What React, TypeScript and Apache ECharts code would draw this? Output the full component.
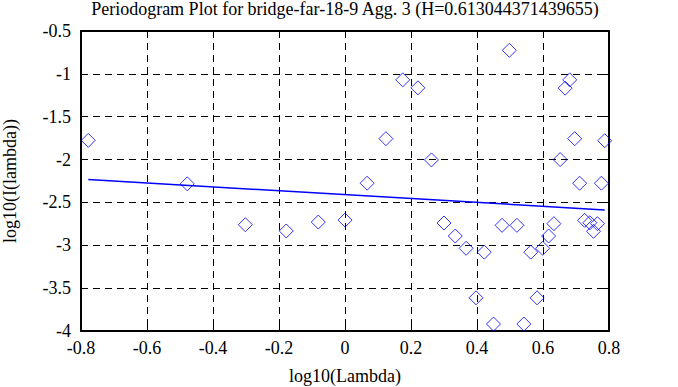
import React, { useEffect, useRef } from "react";
import * as echarts from "echarts";

const titleText = "Periodogram Plot for bridge-far-18-9 Agg. 3 (H=0.613044371439655)";
const xName = "log10(Lambda)";
const yName = "log10(I(lambda))";

const logLambda = [
  -0.778, -0.478, -0.302, -0.178, -0.081, 0.0, 0.067, 0.124, 0.175, 0.221,
  0.262, 0.3, 0.334, 0.367, 0.397, 0.422, 0.45, 0.476, 0.498, 0.521,
  0.542, 0.563, 0.582, 0.599, 0.617, 0.633, 0.652, 0.667, 0.681, 0.696,
  0.711, 0.726, 0.742, 0.753, 0.765, 0.777, 0.787,
];
const logI = [
  -1.776, -2.283, -2.76, -2.833, -2.729, -2.706, -2.276, -1.756, -1.07, -1.163,
  -2.004, -2.74, -2.892, -3.035, -3.613, -3.08, -3.919, -2.767, -0.725, -2.767,
  -3.919, -3.08, -3.613, -3.035, -2.892, -2.748, -2.0, -1.167, -1.07, -1.756,
  -2.276, -2.709, -2.737, -2.837, -2.748, -2.276, -1.78,
];
const fitX = [-0.778, 0.787];
const fitY = [-2.233, -2.587];

const FONT = "Liberation Serif";

export default function App() {
  const ref = useRef<HTMLDivElement>(null);
  useEffect(() => {
    document.body.style.margin = "0";
    const chart = echarts.init(ref.current!, undefined, { renderer: "svg" });
    const axisCommon = {
      axisLine: { show: true, onZero: false, lineStyle: { color: "#000", width: 2 } },
      axisTick: { show: true, inside: true, length: 6, lineStyle: { color: "#000", width: 1 } },
    };
    chart.setOption({
      animation: false,
      backgroundColor: "#fff",
      textStyle: { fontFamily: FONT },
      graphic: [
        {
          type: "text",
          x: 345,
          y: 9,
          style: {
            text: titleText,
            fontFamily: FONT,
            fontSize: 18,
            fill: "#000",
            textAlign: "center",
            textVerticalAlign: "middle",
          },
        },
      ],
      grid: { left: 81, right: 69, top: 31, bottom: 56, outerBoundsMode: "none", containLabel: false },
      xAxis: [
        {
          type: "value",
          min: -0.8,
          max: 0.8,
          interval: 0.2,
          position: "bottom",
          name: xName,
          nameLocation: "middle",
          nameGap: 36,
          nameTextStyle: { fontFamily: FONT, fontSize: 18, color: "#000" },
          ...axisCommon,
          axisLabel: {
            fontFamily: FONT,
            fontSize: 18,
            color: "#000",
            margin: 8,
            formatter: (v: number) => String(Math.round(v * 10) / 10),
          },
          splitLine: { show: true, lineStyle: { color: "#000", type: [7, 5], width: 1 } },
        },
        {
          type: "value",
          min: -0.8,
          max: 0.8,
          interval: 0.2,
          position: "top",
          ...axisCommon,
          axisLabel: { show: false },
          splitLine: { show: false },
        },
      ],
      yAxis: [
        {
          type: "value",
          min: -4,
          max: -0.5,
          interval: 0.5,
          position: "left",
          name: yName,
          nameLocation: "middle",
          nameGap: 62,
          nameRotate: 90,
          nameTextStyle: { fontFamily: FONT, fontSize: 18, color: "#000" },
          ...axisCommon,
          axisLabel: { fontFamily: FONT, fontSize: 18, color: "#000", margin: 10 },
          splitLine: { show: true, lineStyle: { color: "#000", type: [7, 5], width: 1 } },
        },
        {
          type: "value",
          min: -4,
          max: -0.5,
          interval: 0.5,
          position: "right",
          ...axisCommon,
          axisLabel: { show: false },
          splitLine: { show: false },
        },
      ],
      series: [
        {
          type: "scatter",
          xAxisIndex: 0,
          yAxisIndex: 0,
          symbol: "diamond",
          symbolSize: [14, 14],
          itemStyle: { color: "rgba(0,0,0,0)", borderColor: "#0000ff", borderWidth: 1 },
          data: logLambda.map((x, i) => [x, logI[i]]),
        },
        {
          type: "line",
          xAxisIndex: 0,
          yAxisIndex: 0,
          symbol: "none",
          lineStyle: { color: "#0000ff", width: 1.5 },
          data: fitX.map((x, i) => [x, fitY[i]]),
        },
      ],
    });
    return () => chart.dispose();
  }, []);
  return <div ref={ref} style={{ width: 678, height: 387 }} />;
}
